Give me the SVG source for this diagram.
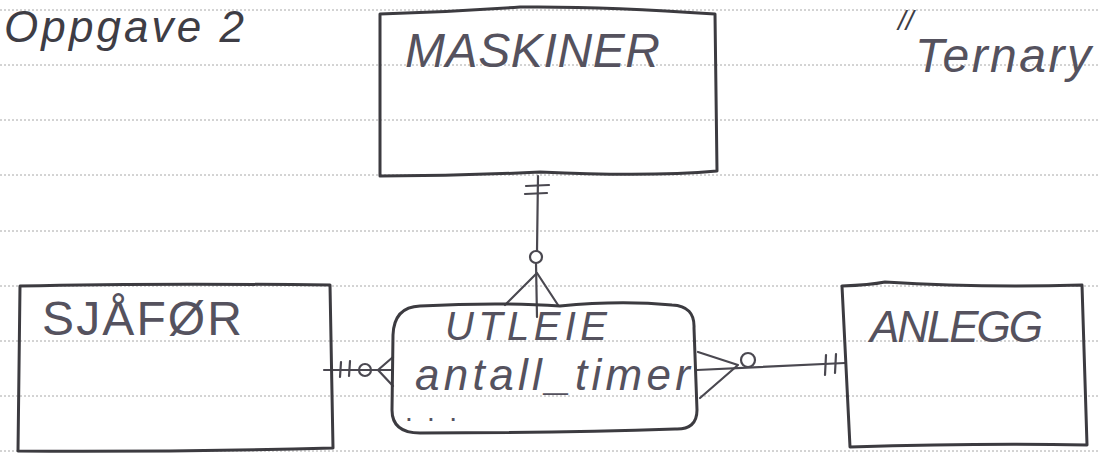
<svg xmlns="http://www.w3.org/2000/svg" width="1100" height="455" viewBox="0 0 1100 455">
<defs>
<style>
.paper{stroke:#a8a8a8;stroke-width:1;stroke-dasharray:2 2;fill:none}
.box{fill:none;stroke:#3c3b40;stroke-width:3;stroke-linejoin:round;stroke-linecap:round}
.conn{fill:none;stroke:#4a4850;stroke-width:2.2;stroke-linecap:round;stroke-linejoin:round}
.hw{font-family:"Liberation Sans",Arial,sans-serif;fill:#55525e;font-weight:normal}
.title{font-family:"Liberation Sans",Arial,sans-serif;fill:#3e3d45}
</style>
</defs>
<rect width="1100" height="455" fill="#ffffff"/>
<g id="paper">
<line class="paper" x1="0" y1="10" x2="1100" y2="10"/>
<line class="paper" x1="0" y1="65" x2="1100" y2="65"/>
<line class="paper" x1="0" y1="120" x2="1100" y2="120"/>
<line class="paper" x1="0" y1="175" x2="1100" y2="175"/>
<line class="paper" x1="0" y1="231" x2="1100" y2="231"/>
<line class="paper" x1="0" y1="286" x2="1100" y2="286"/>
<line class="paper" x1="0" y1="341" x2="1100" y2="341"/>
<line class="paper" x1="0" y1="396" x2="1100" y2="396"/>
<line class="paper" x1="0" y1="451" x2="1100" y2="451"/>
</g>
<g id="headings">
<text class="title" x="4" y="42" font-size="44" font-style="italic" textLength="240">Oppgave 2</text>
<text class="title" x="898" y="30" font-size="28" font-style="italic">//</text>
<text class="hw" x="915" y="72" font-size="48" font-style="italic" textLength="176">Ternary</text>
</g>
<g id="connectors">
<path class="conn" d="M538 176 L537 251 M536 263 L537 317"/>
<path class="conn" d="M526 186 L549 185 M525 194 L547 193"/>
<circle class="conn" cx="536" cy="257" r="6"/>
<path class="conn" d="M505 305 L537 273 L558 305"/>
<path class="conn" d="M324 370 L393 370"/>
<path class="conn" d="M341 362 L340 377 M350 361 L349 376"/>
<circle class="conn" cx="365" cy="370" r="6"/>
<path class="conn" d="M393 357 L378 370 L393 386"/>
<path class="conn" d="M697 370 L845 363"/>
<path class="conn" d="M698 352 L738 365 L700 398"/>
<circle class="conn" cx="748" cy="360" r="7"/>
<path class="conn" d="M826 355 L825 375 M836 354 L835 373"/>
</g>
<g id="maskiner">
<path class="box" d="M380 14 Q450 12 520 7 Q600 6 715 14 L717 171 Q650 177 540 172 Q460 176 380 176 Z"/>
<text class="hw" x="405" y="67" font-size="48" font-style="italic" textLength="255">MASKINER</text>
</g>
<g id="sjafor">
<path class="box" d="M20 286 Q150 283 330 285 L333 448 Q180 452 18 451 Z"/>
<text class="hw" x="42" y="335" font-size="48" textLength="200">SJÅFØR</text>
</g>
<g id="utleie">
<path class="box" d="M420 306 Q500 302 560 306 Q620 300 672 305 Q695 306 694 328 L697 410 Q697 430 675 429 Q560 433 420 433 Q392 433 392 410 L393 335 Q394 307 420 306 Z"/>
<text class="hw" x="445" y="340" font-size="40" font-style="italic" textLength="162">UTLEIE</text>
<text class="hw" x="415" y="390" font-size="44" font-style="italic" textLength="275">antall_timer</text>
<text class="hw" x="405" y="421" font-size="28" font-weight="bold" textLength="52">...</text>
</g>
<g id="anlegg">
<path class="box" d="M842 286 Q870 285 885 282 Q980 288 1082 285 L1087 445 Q980 443 850 447 Z"/>
<text class="hw" x="870" y="342" font-size="44" font-style="italic" textLength="173">ANLEGG</text>
</g>
</svg>
